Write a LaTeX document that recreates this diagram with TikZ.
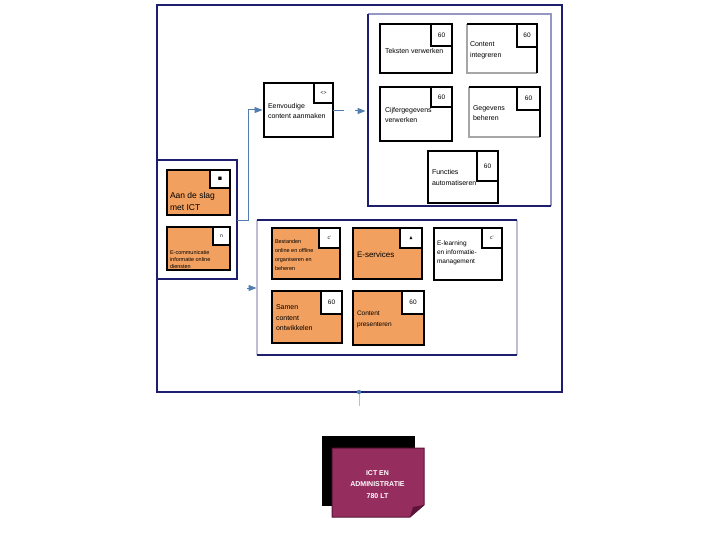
\documentclass[tikz,border=0pt]{standalone}
\usepackage{amssymb}
\usepackage{fontspec}
\setmainfont{Liberation Sans}
\usetikzlibrary{arrows.meta}
\definecolor{navy}{RGB}{30,30,110}
\definecolor{paleblue}{RGB}{150,150,195}
\definecolor{paleline}{RGB}{190,190,210}
\definecolor{connblue}{RGB}{80,125,175}
\definecolor{orangefill}{RGB}{242,160,95}
\definecolor{notepurple}{RGB}{150,45,95}
\definecolor{notedark}{RGB}{90,20,55}
\tikzset{
  every node/.style={inner sep=0pt, outer sep=0pt},
  cbox/.style={draw=black, line width=1.2pt, anchor=north west, fill=white},
  obox/.style={cbox, fill=orangefill},
  tagbox/.style={draw=black, line width=1.2pt, fill=white, anchor=north east, font=\fontsize{6.5}{7}\selectfont},
  btxt/.style={anchor=west, align=left, font=\fontsize{7}{10.5}\selectfont},
  smalltxt/.style={anchor=west, align=left, font=\fontsize{5.5}{9}\selectfont},
  area/.style={anchor=north west},
  conn/.style={draw=connblue, line width=1pt},
  tip/.style={-{Triangle[length=8pt,width=6pt]}},
}
\begin{document}
\begin{tikzpicture}[x=1pt,y=-1pt]
\useasboundingbox (0,0) rectangle (720,540);

% outer frame
\node[area, minimum width=405, minimum height=387] (frame) at (157,5) {};
\draw[navy, line width=1.2pt] (frame.north west) rectangle (frame.south east);

% top right container
\node[area, minimum width=183, minimum height=192] (trc) at (368,14) {};
\draw[paleblue, line width=1.2pt] (trc.north west) -- (trc.north east) -- (trc.south east);
\draw[navy, line width=1.2pt] (trc.north west) -- (trc.south west) -- (trc.south east);

% left container
\node[area, minimum width=80, minimum height=119] (lc) at (157,160) {};
\draw[navy, line width=1.2pt] (lc.north west) -- (lc.north east) -- (lc.south east) -- (lc.south west);

% bottom container
\node[area, minimum width=260, minimum height=135] (bc) at (257,220) {};
\draw[paleline, line width=1.2pt] (bc.north west) -- (bc.south west);
\draw[paleline, line width=1.2pt] (bc.north east) -- (bc.south east);
\draw[navy, line width=1.2pt] (bc.north west) -- (bc.north east);
\draw[navy, line width=1.2pt] (bc.south west) -- (bc.south east);

% ---- top right boxes
\node[cbox, minimum width=72, minimum height=49] (tv) at (380,24) {};
\node[tagbox, minimum width=21, minimum height=22] (tvt) at (tv.north east) {60};
\node[btxt] (tvx) at (385,51) {Teksten verwerken};

\node[cbox, draw=none, minimum width=70, minimum height=49] (ci) at (467,24) {};
\draw[black!35, line width=1.2pt] (ci.north west) -- (ci.south west) -- (ci.south east);
\draw[black, line width=1.2pt] (ci.north west) -- (ci.north east) -- (ci.south east);
\node[tagbox, minimum width=20, minimum height=23] (cit) at (ci.north east) {60};
\node[btxt] (cix) at (470,50.5) {Content\\integreren};

\node[cbox, minimum width=72, minimum height=54] (cg) at (380,87) {};
\node[tagbox, minimum width=21, minimum height=20] (cgt) at (cg.north east) {60};
\node[btxt] (cgx) at (385,115) {Cijfergegevens\\verwerken};

\node[cbox, draw=none, minimum width=71, minimum height=50] (gb) at (469,87) {};
\draw[black!35, line width=1.2pt] (gb.north west) -- (gb.south west) -- (gb.south east);
\draw[black, line width=1.2pt] (gb.north west) -- (gb.north east) -- (gb.south east);
\node[tagbox, minimum width=23, minimum height=23] (gbt) at (gb.north east) {60};
\node[btxt] (gbx) at (473,113) {Gegevens\\beheren};

\node[cbox, minimum width=70, minimum height=52] (fa) at (428,151) {};
\node[tagbox, minimum width=21, minimum height=30] (fat) at (fa.north east) {60};
\node[btxt] (fax) at (432,177.5) {Functies\\automatiseren};

% ---- Eenvoudige content aanmaken
\node[cbox, minimum width=69, minimum height=54] (ee) at (264,83) {};
\node[tagbox, minimum width=19, minimum height=20, font=\fontsize{5}{6}\selectfont] (eet) at (ee.north east) {<>};
\node[btxt] (eex) at (268,111) {Eenvoudige\\content aanmaken};

% ---- left container boxes
\node[obox, minimum width=63, minimum height=45] (as) at (167,170) {};
\node[tagbox, minimum width=20, minimum height=18, font=\fontsize{4}{5}\selectfont] (ast) at (as.north east) {$\blacksquare$};
\node[btxt, font=\fontsize{8.5}{12}\selectfont] (asx) at (170,201) {Aan de slag\\met ICT};

\node[obox, minimum width=63, minimum height=43] (ec) at (167,227) {};
\node[tagbox, minimum width=17, minimum height=18, font=\fontsize{5}{6}\selectfont] (ect) at (ec.north east) {n};
\node[smalltxt, font=\fontsize{5.5}{7.2}\selectfont] (ecx) at (170,259.5) {E-communicatie\\informatie online\\diensten};

% ---- bottom container boxes
\node[obox, minimum width=68, minimum height=51] (bo) at (272,228) {};
\node[tagbox, minimum width=21, minimum height=20, font=\fontsize{5}{6}\selectfont] (bot) at (bo.north east) {c'};
\node[smalltxt] (box) at (275,255) {Bestanden\\online en offline\\organiseren en\\beheren};

\node[obox, minimum width=69, minimum height=51] (es) at (353,228) {};
\node[tagbox, minimum width=22, minimum height=20, font=\fontsize{5}{6}\selectfont] (est) at (es.north east) {$\blacktriangle$};
\node[btxt, font=\fontsize{8}{10}\selectfont] (esx) at (357,255) {E-services};

\node[cbox, minimum width=68, minimum height=52] (el) at (434,228) {};
\node[tagbox, minimum width=20, minimum height=20, font=\fontsize{5}{6}\selectfont] (elt) at (el.north east) {c'};
\node[btxt, font=\fontsize{6.5}{9}\selectfont] (elx) at (437,253) {E-learning\\en informatie-\\management};

\node[obox, minimum width=70, minimum height=52] (sc) at (272,291) {};
\node[tagbox, minimum width=21, minimum height=23] (sct) at (sc.north east) {60};
\node[btxt] (scx) at (276,318) {Samen\\content\\ontwikkelen};

\node[obox, minimum width=71, minimum height=54] (cp) at (353,291) {};
\node[tagbox, minimum width=22, minimum height=23] (cpt) at (cp.north east) {60};
\node[btxt, font=\fontsize{6.5}{11}\selectfont] (cpx) at (357,319) {Content\\presenteren};

% ---- connectors
\coordinate (j1) at (248,221);
\draw[conn, tip, shorten >=1.5pt] (j1 -| lc.east) -- (j1) |- (ee.west);
\coordinate (g1) at (344,111);
\coordinate (g2) at (355,111);
\draw[conn] (ee.east |- g1) -- (g1);
\draw[conn, tip, shorten >=2.5pt] (g2) -- (g2 -| trc.west);
\coordinate (g3) at (247,288);
\draw[conn, tip, shorten >=0.5pt] (g3) -- (g3 -| bc.west);

% bottom dot and stub
\coordinate (d1) at (359,392);
\coordinate (d2) at (359,406);
\draw[black!25, line width=1pt] (d1) -- (d2);
\fill[connblue] (d1) circle (2.2pt);

% ---- note
\node[area, minimum width=93, minimum height=70, fill=black] (shadow) at (322,436) {};
\draw[notedark, line width=1pt, fill=notepurple] (332,448) -- (424,448) -- (424,505) -- (410,517) -- (332,517) -- cycle;
\fill[notedark] (424,505) -- (410,517) -- (413,507) -- cycle;
\node[font=\bfseries\fontsize{7}{11.5}\selectfont, text=white, align=center] (note) at (377.5,484.5) {ICT EN\\ADMINISTRATIE\\780 LT};
\end{tikzpicture}
\end{document}
